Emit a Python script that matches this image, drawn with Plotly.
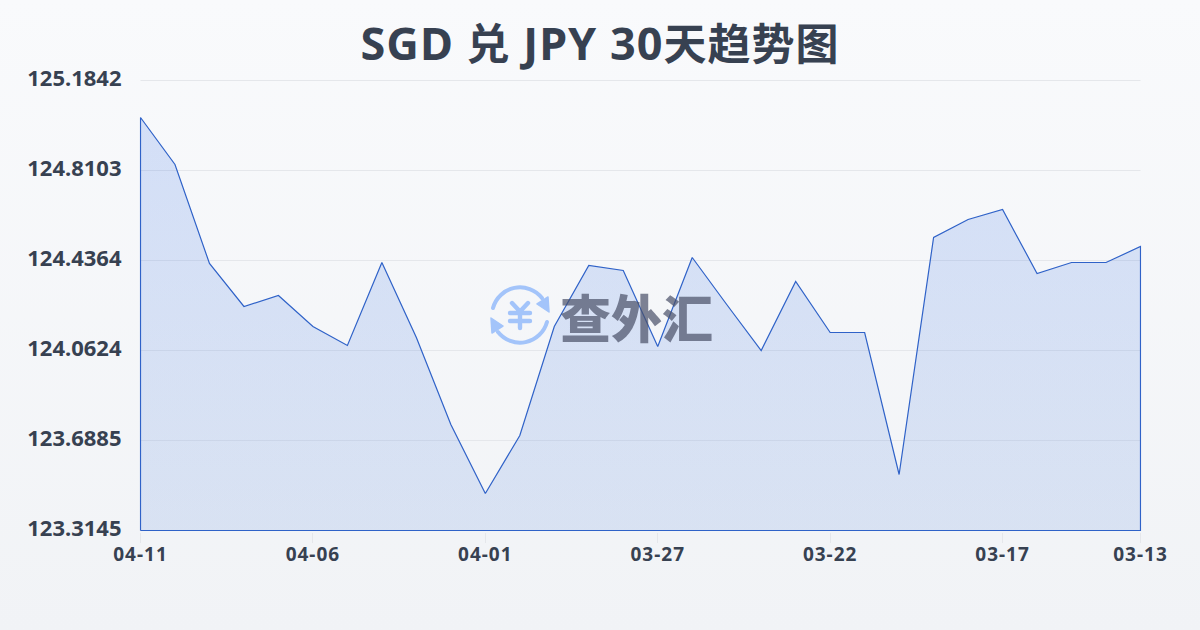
import base64
import plotly.graph_objects as go

title_parts = [("SGD ", True), ("兑", False), (" JPY 30", True), ("天趋势图", False)]
watermark_text = "查外汇"
dates = ["04-11", "04-10", "04-09", "04-08", "04-07", "04-06", "04-05", "04-04", "04-03", "04-02",
         "04-01", "03-31", "03-30", "03-29", "03-28", "03-27", "03-26", "03-25", "03-24", "03-23",
         "03-22", "03-21", "03-20", "03-19", "03-18", "03-17", "03-16", "03-15", "03-14", "03-13"]
rates = [125.0305, 124.8352, 124.4239, 124.2452, 124.2909, 124.1621, 124.0832, 124.4280, 124.1164, 123.7549,
         123.4682, 123.7092, 124.1621, 124.4155, 124.3948, 124.0790, 124.4488, 124.2535, 124.0624, 124.3491,
         124.1372, 124.1372, 123.5472, 124.5319, 124.6067, 124.6482, 124.3823, 124.4280, 124.4280, 124.4945]
y_ticks = [123.3145, 123.6885, 124.0624, 124.4364, 124.8103, 125.1842]
y_labels = ["123.3145", "123.6885", "124.0624", "124.4364", "124.8103", "125.1842"]
x_ticks = ["04-11", "04-06", "04-01", "03-27", "03-22", "03-17", "03-13"]

INK = "#374151"
LINE = "#2f62c8"
GRID = "#e5e7eb"
# Plot box: axis length is 1002x452 px (1 px of slack each side so the outline is not clipped),
# inset half a pixel in a 1003x453 box so that lines land on pixel centres.
W, H = 1003.0, 453.0
L, T = 139.0, 79.0
x_pad = (len(dates) - 1) / 1000
y_pad = (y_ticks[-1] - y_ticks[0]) / 450

bg_svg = ('<svg xmlns="http://www.w3.org/2000/svg" width="1200" height="630"><defs>'
          '<linearGradient id="g" x1="0" y1="0" x2="0" y2="1"><stop offset="0" stop-color="#f9fafc"/>'
          '<stop offset="1" stop-color="#f1f3f6"/></linearGradient></defs>'
          '<rect width="1200" height="630" fill="url(#g)"/></svg>')
icon_svg = ('<svg xmlns="http://www.w3.org/2000/svg" width="62" height="62" viewBox="-31 -31 62 62">'
            '<g fill="none" stroke="#a3c4fa" stroke-width="4" stroke-linecap="round">'
            '<path d="M-27 -7 A28 28 0 0 1 22 -17"/><path d="M27 7 A28 28 0 0 1 -22 17"/>'
            '<path stroke-width="4.4" d="M-8 -12 L0 -3.5 L8 -12 M0 -3.5 V13 M-10 -2 H10 M-10 6 H10"/></g>'
            '<path d="M29 -3 L28 -18 L17 -11 Z" fill="#a3c4fa" stroke="#a3c4fa" stroke-width="1.5" stroke-linejoin="round"/>'
            '<path d="M-29 3 L-28 18 L-17 11 Z" fill="#a3c4fa" stroke="#a3c4fa" stroke-width="1.5" stroke-linejoin="round"/></svg>')


def uri(svg):
    return "data:image/svg+xml;base64," + base64.b64encode(svg.encode()).decode()


def px(x):
    return (x - L) / W


def py(y):
    return 1 - (y - T) / H


title_html = "".join(f'<span style="font-size:45px">{t}</span>' if big else t for t, big in title_parts)

fig = go.Figure(go.Scatter(
    x=[dates[0]] + dates + [dates[-1], dates[0]],
    y=[y_ticks[0]] + rates + [y_ticks[0], y_ticks[0]],
    mode="lines",
    fill="toself",
    fillgradient=dict(type="vertical",
                      colorscale=[[0, "rgba(59,115,215,0.14)"], [1, "rgba(59,115,232,0.19)"]]),
    line=dict(color=LINE, width=1.2),
    hoverinfo="skip",
))

fig.update_layout(
    width=1200, height=630,
    margin=dict(l=139, r=58, t=79, b=98, pad=0),
    paper_bgcolor="rgba(0,0,0,0)",
    plot_bgcolor="rgba(0,0,0,0)",
    showlegend=False,
    title=dict(text=title_html, x=0.5, xanchor="center", y=0.928, yanchor="middle",
               font=dict(family="Noto Sans, Noto Sans CJK SC", size=43, color=INK, weight=700)),
    xaxis=dict(type="category", categoryorder="array", categoryarray=dates,
               domain=[0.5 / W, 1002.5 / W],
               range=[-x_pad, len(dates) - 1 + x_pad], tickmode="array", tickvals=x_ticks, ticktext=x_ticks,
               showgrid=False, zeroline=False, showline=False,
               ticks="outside", ticklen=10, tickwidth=1, tickcolor=GRID,
               tickangle=0, ticklabelstandoff=-4,
               tickfont=dict(family="Noto Sans", size=19, color=INK, weight=700)),
    yaxis=dict(range=[y_ticks[0] - y_pad, y_ticks[-1] + y_pad], domain=[0.5 / H, 452.5 / H],
               tickmode="array", tickvals=y_ticks, ticktext=y_labels,
               showgrid=False, zeroline=False, showline=False,
               ticks="", ticklabelstandoff=17, ticklabelshift=-2,
               tickfont=dict(family="Noto Sans", size=22, color=INK, weight=700)),
    shapes=[dict(type="line", xref="x", yref="y", x0=dates[0], x1=dates[-1], y0=v, y1=v,
                 line=dict(color=GRID, width=1), layer="below") for v in y_ticks],
    images=[
        dict(source=uri(bg_svg), xref="paper", yref="paper", x=px(0), y=py(0),
             sizex=1200 / W, sizey=630 / H, sizing="stretch", layer="below", xanchor="left", yanchor="top"),
        dict(source=uri(icon_svg), xref="paper", yref="paper", x=px(489), y=py(284),
             sizex=62 / W, sizey=62 / H, sizing="stretch", layer="above", xanchor="left", yanchor="top"),
    ],
    annotations=[dict(text=watermark_text, xref="paper", yref="paper", x=px(636), y=py(316),
                      xanchor="center", yanchor="middle", showarrow=False, opacity=0.7,
                      font=dict(family="Noto Sans CJK SC", size=51, color="#4a5068", weight=900))],
)

css = ("var s=document.createElement('style');"
       "s.textContent='body{margin:0;background:#f5f6f9}.xtick text{letter-spacing:1px}.gtitle{letter-spacing:1px}';"
       "document.head.appendChild(s);")
fig.write_html("out.html", config=dict(displayModeBar=False), post_script=css)
